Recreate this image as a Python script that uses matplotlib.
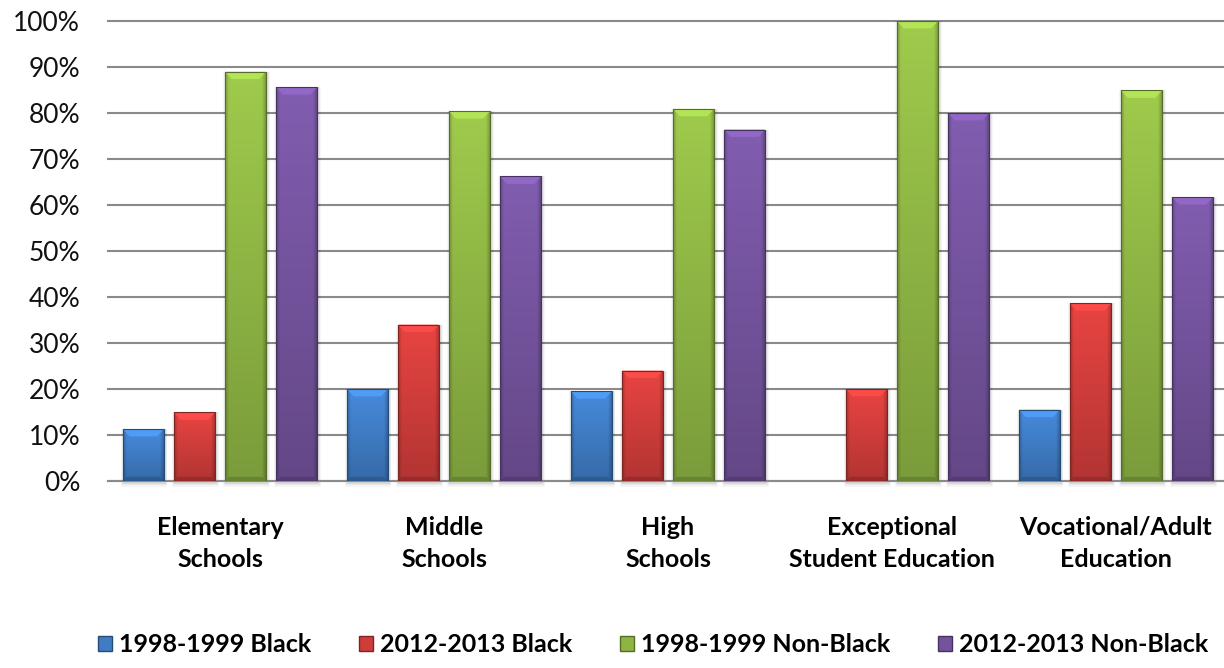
import numpy as np
import matplotlib
matplotlib.use("Agg")
import matplotlib.pyplot as plt
from matplotlib.patches import Rectangle, Polygon
from matplotlib.colors import to_rgb
from matplotlib.ticker import MultipleLocator, FuncFormatter

# ---- data -------------------------------------------------------------
categories = ["Elementary\nSchools", "Middle\nSchools", "High\nSchools",
              "Exceptional\nStudent Education", "Vocational/Adult\nEducation"]
black_1998 = [11.3, 20.0, 19.5, 0.0, 15.5]
black_2012 = [14.9, 34.0, 24.0, 20.0, 38.6]
nonblack_1998 = [89.0, 80.4, 80.9, 100.0, 84.9]
nonblack_2012 = [85.6, 66.2, 76.4, 80.0, 61.7]
series_names = ["1998-1999 Black", "2012-2013 Black",
                "1998-1999 Non-Black", "2012-2013 Non-Black"]
series_values = [black_1998, black_2012, nonblack_1998, nonblack_2012]
series_colors = ["#3f7cc4", "#cf3d3b", "#8eb544", "#74539d"]

plt.rcParams['font.family'] = ['Lato', 'DejaVu Sans']

W, H = 1224, 668
fig = plt.figure(figsize=(W / 100, H / 100), dpi=100)
ax = fig.add_axes([108 / W, 187 / H, 1120 / W, 460 / H])

bar_w = 0.183
step = 0.228
x = np.arange(len(categories))


def shaded_image(color, nv=120, nh=60):
    """Vertical light-to-dark gradient with darker side edges."""
    base = np.array(to_rgb(color))
    v = np.linspace(1.12, 0.86, nv)[:, None]
    h = np.linspace(0, 1, nh)
    edge = np.minimum(h, 1 - h)
    hf = 0.78 + 0.22 * np.clip(edge / 0.09, 0, 1)
    f = v * hf[None, :]
    img = np.clip(base[None, None, :] * f[:, :, None], 0, 1)
    return img


for i, (vals, col) in enumerate(zip(series_values, series_colors)):
    bars = ax.bar(x + (i - 1.5) * step, vals, width=bar_w,
                  color="none", edgecolor="none", zorder=3)
    img = shaded_image(col)
    base = np.array(to_rgb(col))
    for b in bars:
        h = b.get_height()
        if h <= 0:
            continue
        x0, w = b.get_x(), b.get_width()
        # soft drop shadow
        for k, a in enumerate([0.06, 0.05, 0.04]):
            d = 0.004 * (k + 1)
            ax.add_patch(Rectangle((x0 - d + 0.004, -0.6 - 0.3 * k), w + 2 * d,
                                   h + 0.6 + 0.3 * k, facecolor="black",
                                   edgecolor="none", alpha=a, zorder=2,
                                   clip_on=False))
        im = ax.imshow(img, extent=[x0, x0 + w, 0, h], aspect="auto",
                       origin="upper", zorder=3, interpolation="bilinear")
        clip = Rectangle((x0, 0), w, h, transform=ax.transData,
                         facecolor="none", edgecolor="none")
        im.set_clip_path(clip)
        # bevelled top face
        bh = min(1.6, h)
        ins = 0.03
        top = Polygon([(x0, h), (x0 + w, h), (x0 + w - ins, h - bh),
                       (x0 + ins, h - bh)], closed=True,
                      facecolor=np.clip(base * 1.28, 0, 1), edgecolor="none",
                      zorder=4, alpha=0.9)
        ax.add_patch(top)
        # darker bottom lip
        bot = Polygon([(x0, 0), (x0 + w, 0), (x0 + w - ins * 0.6, 0.9),
                       (x0 + ins * 0.6, 0.9)], closed=True,
                      facecolor=base * 0.7, edgecolor="none", zorder=4,
                      alpha=0.8)
        ax.add_patch(bot)
        ax.add_patch(Rectangle((x0, 0), w, h, facecolor="none",
                               edgecolor=base * 0.6, linewidth=0.8, zorder=5))

ax.set_xlim(-0.5, 4.5)
ax.set_ylim(0, 100)

# axes styling
for s in ["left", "right", "top"]:
    ax.spines[s].set_visible(False)
ax.spines["bottom"].set_color("#8a8a8a")
ax.spines["bottom"].set_linewidth(1.5)
ax.yaxis.set_major_locator(MultipleLocator(10))
ax.yaxis.set_major_formatter(FuncFormatter(lambda v, p: f"{v:.0f}%"))
ax.grid(axis="y", color="#8a8a8a", linewidth=1.5, zorder=0)
ax.set_axisbelow(True)
for gl in ax.get_ygridlines():
    gl.set_clip_on(False)
ax.tick_params(axis="y", length=0, pad=20, labelsize=19, labelcolor="#111111")
ax.set_xticks(x)
ax.set_xticklabels(categories, fontsize=18, fontweight="bold",
                   linespacing=1.5)
ax.tick_params(axis="x", length=0, pad=25)

handles = [Rectangle((0, 0), 1, 1, facecolor=c, edgecolor=np.array(to_rgb(c)) * 0.6)
           for c in series_colors]
fig.legend(handles, series_names, loc="center", bbox_to_anchor=(653 / W, 23 / H),
           ncol=4, frameon=False, prop={"weight": "bold", "size": 18},
           handlelength=0.55, handleheight=0.55, handletextpad=0.3,
           columnspacing=1.9)

fig.savefig("out.png", dpi=100)
